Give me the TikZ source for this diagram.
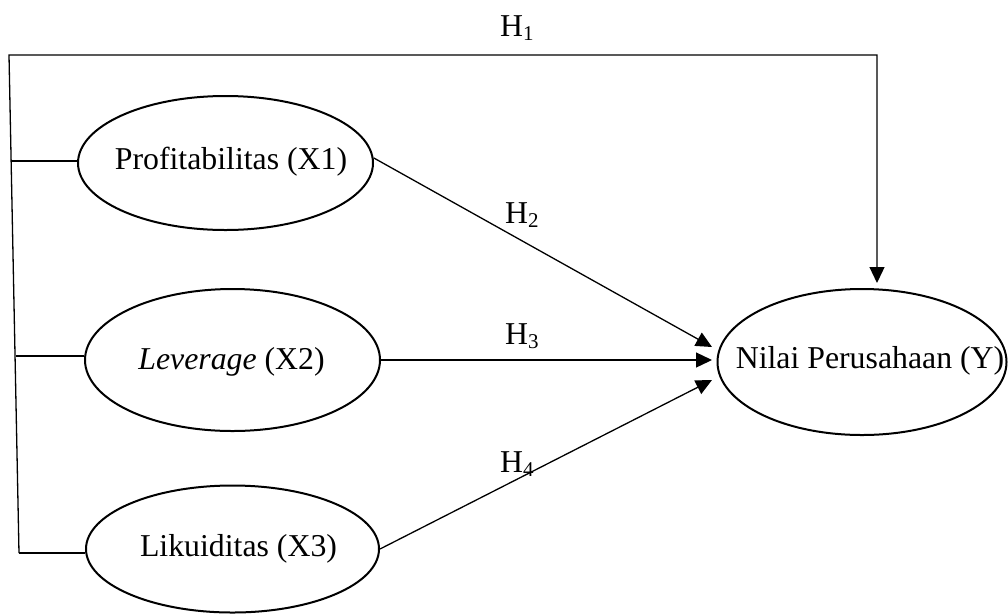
\documentclass[tikz,border=0pt]{standalone}
\usepackage{fontspec}
\setmainfont{Liberation Serif}
\usetikzlibrary{shapes.geometric,arrows.meta,calc}
% lowered, smaller digit for the hypothesis labels
\newcommand\hsub[1]{\raisebox{-4.5pt}{\fontsize{21}{21}\selectfont #1}}
\begin{document}
\begin{tikzpicture}[x=1pt,y=-1pt,
  var/.style={ellipse, draw, line width=2pt, inner sep=0pt},
  vtext/.style={inner sep=0pt, font=\fontsize{31.8}{38}\selectfont},
  link/.style={line width=1.3pt, line join=miter},
  hyp/.style={link, -{Triangle[length=16pt,width=15pt]}},
  hlabel/.style={anchor=base west, inner sep=0pt,
                 font=\fontsize{31.8}{38}\selectfont}]
\useasboundingbox (0,0) rectangle (1008,614);

% variables: ellipse outlines
\node[var, minimum width=295pt, minimum height=134pt] (x1) at (225.5,163) {};
\node[var, minimum width=295pt, minimum height=142pt] (x2) at (232.5,360) {};
\node[var, minimum width=293pt, minimum height=127pt] (x3) at (232.5,549) {};
\node[var, minimum width=289pt, minimum height=146pt] (y) at (862,362) {};
% variable names
\node[vtext] (x1t) at (231,162) {Profitabilitas (X1)};
\node[vtext] (x2t) at (231.5,362) {\textit{Leverage} (X2)};
\node[vtext] (x3t) at (238.5,549) {Likuiditas (X3)};
\node[vtext] (yt) at (870,361) {Nilai Perusahaan (Y)};

% simultaneous path (H1)
\coordinate (tl) at (9,55);
\coordinate (bl) at (19,553);
\coordinate (tr) at (877,55);
\coordinate (h1tip) at (877,283);
\coordinate (j1) at (11,161);
\coordinate (j2) at (16,356);
\draw[hyp] (bl) -- (tl) -- (tr) -- (h1tip);
\draw[link] (j1) -- (j1 -| x1.west);
\draw[link] (j2) -- (j2 -| x2.west);
\draw[link] (bl) -- (bl -| x3.west);

% partial paths (H2-H4)
\coordinate (t2) at (712,347);
\coordinate (t3) at (712,360);
\coordinate (t4) at (712,380);
\draw[hyp] (x1.2) -- (t2);
\draw[hyp] (x2.east) -- (t3);
\draw[hyp] (x3.east) -- (t4);

% hypothesis labels
\node[hlabel] (h1) at (500,36) {H\hsub{1}};
\node[hlabel] (h2) at (505,223) {H\hsub{2}};
\node[hlabel] (h3) at (505,344) {H\hsub{3}};
\node[hlabel] (h4) at (500,472) {H\hsub{4}};
\end{tikzpicture}
\end{document}
